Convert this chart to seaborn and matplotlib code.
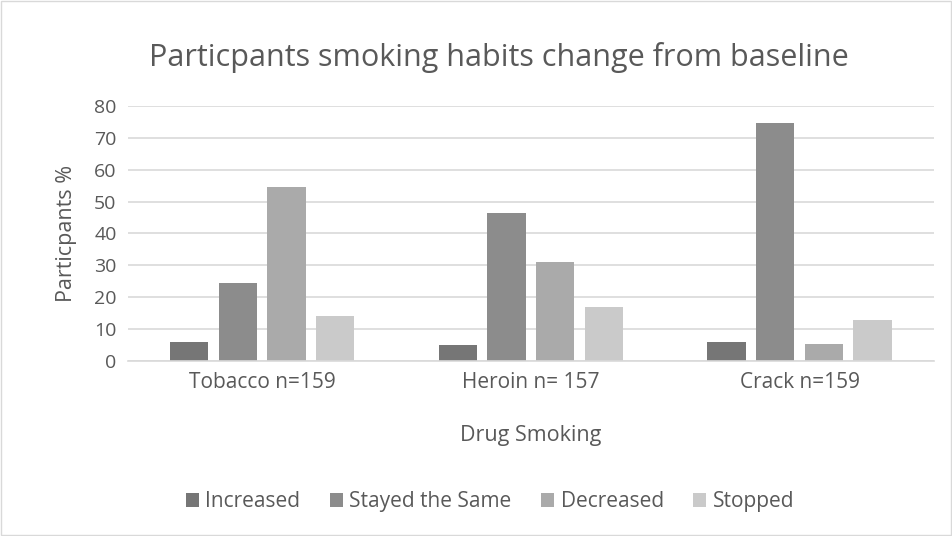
import matplotlib
matplotlib.use("Agg")
import matplotlib.pyplot as plt
import seaborn as sns
import pandas as pd
from matplotlib.patches import Rectangle, Patch

categories = ["Tobacco n=159", "Heroin n= 157", "Crack n=159"]
series = ["Increased", "Stayed the Same", "Decreased", "Stopped"]
increased = [6.0, 4.8, 6.0]
stayed = [24.4, 46.3, 74.6]
decreased = [54.5, 30.9, 5.4]
stopped = [14.2, 16.9, 12.9]
colors = ["#767676", "#8c8c8c", "#aaaaaa", "#cacaca"]
yticks = [0, 10, 20, 30, 40, 50, 60, 70, 80]

rows = []
for s, vals in zip(series, [increased, stayed, decreased, stopped]):
    for c, v in zip(categories, vals):
        rows.append({"Drug": c, "Status": s, "Value": v})
df = pd.DataFrame(rows)

sns.set_theme(style="white")
plt.rcParams["font.family"] = ["Open Sans", "DejaVu Sans"]
txt = "#595959"

fig = plt.figure(figsize=(9.53, 5.36), dpi=100)
ax = fig.add_axes([0.134, 0.327, 0.846, 0.475])
sns.barplot(data=df, x="Drug", y="Value", hue="Status", order=categories,
            hue_order=series, palette=dict(zip(series, colors)),
            width=0.724, gap=0.21, ax=ax, legend=False, saturation=1,
            edgecolor="none")

ax.set_ylim(0, 80)
ax.set_yticks(yticks)
ax.set_xlim(-0.5, 2.5)
ax.yaxis.grid(True, color="#d9d9d9", linewidth=1.2)
ax.set_axisbelow(True)
for sp in ["top", "right", "left"]:
    ax.spines[sp].set_visible(False)
ax.spines["bottom"].set_color("#d9d9d9")
ax.spines["bottom"].set_linewidth(1.2)
ax.tick_params(axis="y", length=0, labelsize=14, colors=txt, pad=8)
ax.tick_params(axis="x", length=0, labelsize=15, colors=txt, pad=8)
ax.set_ylabel("Particpants %", fontsize=15.5, color=txt, labelpad=12)
ax.set_xlabel("Drug Smoking", fontsize=15.5, color=txt, labelpad=23)

fig.text(0.523, 0.893, "Particpants smoking habits change from baseline",
         ha="center", va="center", fontsize=22, color=txt)

handles = [Patch(facecolor=c, edgecolor="none", label=s) for s, c in zip(series, colors)]
fig.legend(handles=handles, loc="center", bbox_to_anchor=(0.514, 0.064), ncol=4,
           frameon=False, fontsize=15, labelcolor=txt, handlelength=0.65,
           handleheight=0.65, handletextpad=0.3, columnspacing=1.4)

fig.patches.append(Rectangle((0.001, 0.001), 0.997, 0.997, transform=fig.transFigure,
                             fill=False, edgecolor="#d9d9d9", linewidth=1))

fig.savefig("out.png", dpi=100)
